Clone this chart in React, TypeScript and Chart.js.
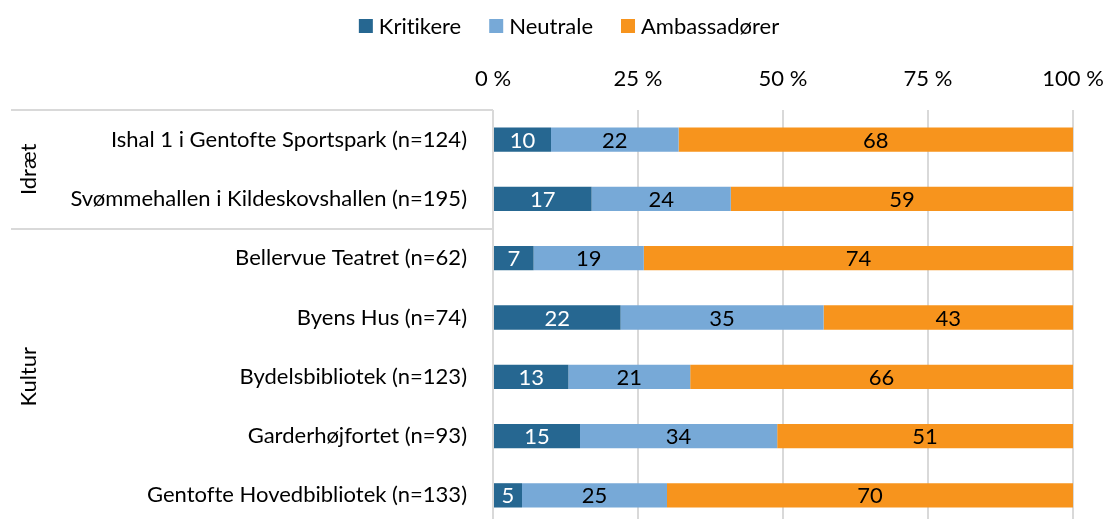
import React, { useEffect, useRef } from 'react';
import { Chart, registerables } from 'chart.js';

Chart.register(...registerables);

const categories = [
  'Ishal 1 i Gentofte Sportspark (n=124)',
  'Svømmehallen i Kildeskovshallen (n=195)',
  'Bellervue Teatret (n=62)',
  'Byens Hus (n=74)',
  'Bydelsbibliotek (n=123)',
  'Garderhøjfortet (n=93)',
  'Gentofte Hovedbibliotek (n=133)',
];
const groupNames = ['Idræt', 'Kultur'];
const groupStarts = [0, 2];
const groupEnds = [1, 6];

const seriesNames = ['Kritikere', 'Neutrale', 'Ambassadører'];
const kritikere = [10, 17, 7, 22, 13, 15, 5];
const neutrale = [22, 24, 19, 35, 21, 34, 25];
const ambassadorer = [68, 59, 74, 43, 66, 51, 70];
const xTickValues = [0, 25, 50, 75, 100];

const seriesColors = ['#266791', '#77a9d7', '#f7941d'];
const labelColors = ['#ffffff', '#000000', '#000000'];
const FONT = 'Lato, "Open Sans", sans-serif';
const FS = 22;

const noLigaturePlugin = {
  id: 'noLigatures',
  beforeDraw(chart: any) {
    try {
      (chart.ctx as any).textRendering = 'optimizeSpeed';
    } catch (e) {
      /* ignore */
    }
  },
};

const valueLabelPlugin = {
  id: 'valueLabels',
  afterDatasetsDraw(chart: any) {
    const ctx = chart.ctx;
    ctx.save();
    ctx.font = `${FS}px ${FONT}`;
    ctx.textAlign = 'center';
    ctx.textBaseline = 'middle';
    chart.data.datasets.forEach((ds: any, di: number) => {
      const meta = chart.getDatasetMeta(di);
      meta.data.forEach((bar: any, i: number) => {
        const v = ds.data[i];
        const cx = (bar.x + bar.base) / 2;
        ctx.fillStyle = labelColors[di];
        ctx.fillText(String(v), cx, bar.y + 1);
      });
    });
    ctx.restore();
  },
};

const legendPlugin = {
  id: 'customLegend',
  afterDraw(chart: any) {
    const ctx = chart.ctx;
    ctx.save();
    ctx.font = `${FS}px ${FONT}`;
    ctx.textBaseline = 'middle';
    ctx.textAlign = 'left';
    const box = 14;
    const gap = 6;
    const spacing = 28;
    const widths = chart.data.datasets.map((ds: any) => ctx.measureText(ds.label).width);
    const total = widths.reduce((a: number, w: number) => a + box + gap + w, 0) + spacing * (widths.length - 1);
    let x = 569 - total / 2;
    const cy = 26;
    chart.data.datasets.forEach((ds: any, i: number) => {
      ctx.fillStyle = ds.backgroundColor;
      ctx.fillRect(x, cy - box / 2, box, box);
      ctx.fillStyle = '#000';
      ctx.fillText(ds.label, x + box + gap, cy + 1);
      x += box + gap + widths[i] + spacing;
    });
    ctx.restore();
  },
};

const groupPlugin = {
  id: 'groupLabels',
  afterDraw(chart: any) {
    const ctx = chart.ctx;
    const y = chart.scales.y;
    const area = chart.chartArea;
    const half = (y.getPixelForValue(1) - y.getPixelForValue(0)) / 2;
    ctx.save();
    ctx.strokeStyle = '#d9d9d9';
    ctx.lineWidth = 2;
    const bounds: number[] = [];
    groupStarts.forEach((s, gi) => {
      const top = y.getPixelForValue(s) - half;
      const bottom = y.getPixelForValue(groupEnds[gi]) + half;
      bounds.push(top, bottom);
      ctx.save();
      ctx.translate(29, (top + bottom) / 2);
      ctx.rotate(-Math.PI / 2);
      ctx.font = `${FS}px ${FONT}`;
      ctx.fillStyle = '#000';
      ctx.textAlign = 'center';
      ctx.textBaseline = 'middle';
      ctx.fillText(groupNames[gi], 0, 0);
      ctx.restore();
    });
    Array.from(new Set(bounds.map((b) => Math.round(b)))).forEach((b) => {
      ctx.beginPath();
      ctx.moveTo(11, b);
      ctx.lineTo(area.left, b);
      ctx.stroke();
    });
    ctx.restore();
  },
};

export default function App() {
  const ref = useRef<HTMLCanvasElement>(null);
  useEffect(() => {
    if (!ref.current) return;
    const chart = new Chart(ref.current, {
      type: 'bar',
      data: {
        labels: categories,
        datasets: [kritikere, neutrale, ambassadorer].map((d, i) => ({
          label: seriesNames[i],
          data: d,
          backgroundColor: seriesColors[i],
          borderWidth: 0,
          barPercentage: 0.41,
          categoryPercentage: 1,
        })),
      },
      options: {
        indexAxis: 'y',
        responsive: false,
        maintainAspectRatio: false,
        animation: false,
        layout: { padding: { left: 0, right: 32, top: 0, bottom: 5 } },
        plugins: {
          legend: { display: false },
          tooltip: { enabled: false },
        },
        scales: {
          x: {
            position: 'top',
            stacked: true,
            min: 0,
            max: 100,
            afterBuildTicks(scale: any) {
              scale.ticks = xTickValues.map((v) => ({ value: v }));
            },
            afterFit(scale: any) {
              scale.height = 110;
              scale.paddingLeft = 0;
              scale.paddingRight = 0;
            },
            grid: { color: '#d9d9d9', lineWidth: 2, drawTicks: false },
            border: { display: false },
            ticks: {
              padding: 18,
              color: '#000',
              font: { family: FONT, size: FS },
              callback: (v: any) => `${v} %`,
            },
          },
          y: {
            stacked: true,
            grid: { display: false },
            border: { display: false },
            afterFit(scale: any) {
              scale.width = 493;
              scale.paddingTop = 0;
              scale.paddingBottom = 0;
            },
            ticks: {
              padding: 18,
              color: '#000',
              font: { family: FONT, size: FS },
            },
          },
        },
      },
      plugins: [noLigaturePlugin, valueLabelPlugin, groupPlugin, legendPlugin],
    });
    return () => chart.destroy();
  }, []);
  return (
    <div style={{ position: 'fixed', left: 0, top: 0, width: 1105, height: 519, overflow: 'hidden', background: '#fff' }}>
      <canvas ref={ref} width={1105} height={530} style={{ width: 1105, height: 530, display: 'block' }} />
    </div>
  );
}
